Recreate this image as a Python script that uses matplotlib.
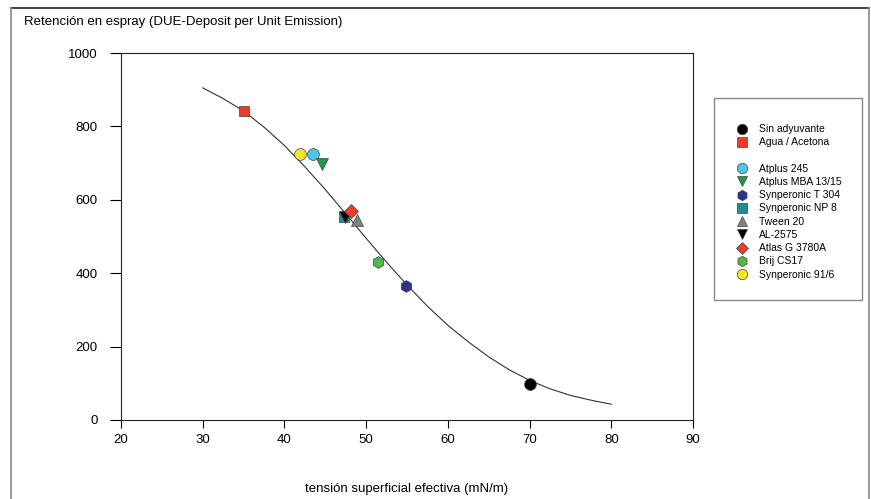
import matplotlib; matplotlib.use("Agg")
import matplotlib.pyplot as plt
from matplotlib.lines import Line2D
from matplotlib.patches import Rectangle

plt.rcParams["font.family"] = ["Liberation Sans", "DejaVu Sans"]

# products: name, tension (mN/m), DUE
names = ["Sin adyuvante", "Agua / Acetona", "Atplus 245", "Atplus MBA 13/15",
         "Synperonic T 304", "Synperonic NP 8", "Tween 20", "AL-2575",
         "Atlas G 3780A", "Brij CS17", "Synperonic 91/6"]
tension = [70.0, 35.0, 43.5, 44.6, 54.9, 47.3, 48.9, 47.4, 48.2, 51.5, 41.9]
due = [97, 842, 725, 698, 364, 553, 545, 553, 570, 430, 725]
markers = ["o", "s", "o", "v", "h", "s", "^", "v", "D", "h", "o"]
colors = ["#000000", "#ee3b2a", "#4ec5e3", "#1b9a4a", "#2e3192", "#1d8f93",
          "#808285", "#000000", "#ee3b2a", "#52b748", "#f3e622"]

# fitted curve
fit_x = [30, 32.5, 35, 37.5, 40, 42.5, 45, 47.5, 50, 52.5, 55, 57.5, 60,
         62.5, 65, 67.5, 70, 72.5, 75, 77.5, 80]
fit_y = [905, 876, 842, 798, 748, 690, 628, 562, 495, 430, 368, 310, 258,
         213, 172, 137, 108, 85, 67, 54, 43]

fig = plt.figure(figsize=(8.71, 4.99), dpi=100)
ax = fig.add_axes([121/871, 1-420/499, 572/871, 367/499])

ax.plot(fit_x, fit_y, color="#333333", lw=0.8, zorder=2)
for x, y, m, c in zip(tension, due, markers, colors):
    ms = 7.5 if m in ("s", "D") else 8.5
    ax.plot(x, y, marker=m, color=c, ms=ms, mec="#444444", mew=0.5,
            ls="none", zorder=3)

ax.set_xlim(20, 90); ax.set_ylim(0, 1000)
ax.set_xticks([20, 30, 40, 50, 60, 70, 80, 90])
ax.set_yticks([0, 200, 400, 600, 800, 1000])
ax.tick_params(direction="out", length=6, width=0.8, labelsize=9.5, pad=4)
ax.tick_params(axis="y", length=8, pad=9)
for s in ax.spines.values():
    s.set_linewidth(0.8); s.set_color("#222222")
ax.set_xlabel("tensión superficial efectiva (mN/m)", fontsize=9.5, labelpad=27)

fig.text(24/871, 1-22/499, "Retención en espray (DUE-Deposit per Unit Emission)",
         fontsize=9.5, va="center", ha="left")

# outer frame (top, left, right)
fig.add_artist(Line2D([11/871, 869/871], [1-8/499, 1-8/499], color="#222222", lw=1.2,
                      transform=fig.transFigure))
fig.add_artist(Line2D([11/871, 11/871], [0, 1-8/499], color="#888888", lw=1.2,
                      transform=fig.transFigure))
fig.add_artist(Line2D([869/871, 869/871], [0, 1-8/499], color="#888888", lw=1.2,
                      transform=fig.transFigure))

# legend box
fig.add_artist(Rectangle((714/871, 1-300/499), 148/871, 202/499, fill=False,
                         ec="#888888", lw=1.0, transform=fig.transFigure))
handles = []; labels = []
for i, (n, m, c) in enumerate(zip(names, markers, colors)):
    ms = 6.5 if m in ("s", "D") else 7.5
    handles.append(Line2D([], [], marker=m, color=c, ms=ms, mec="#444444",
                          mew=0.5, ls="none"))
    labels.append(n)
    if i == 1:
        handles.append(Line2D([], [], ls="none")); labels.append("")
fig.legend(handles, labels, loc="upper left", bbox_to_anchor=(737/871, 1-124/499),
           frameon=False, fontsize=7.5, handlelength=1.0, handletextpad=1.1,
           labelspacing=0.31, handleheight=0.6, borderpad=0, borderaxespad=0)

fig.savefig("out.png", dpi=100)
